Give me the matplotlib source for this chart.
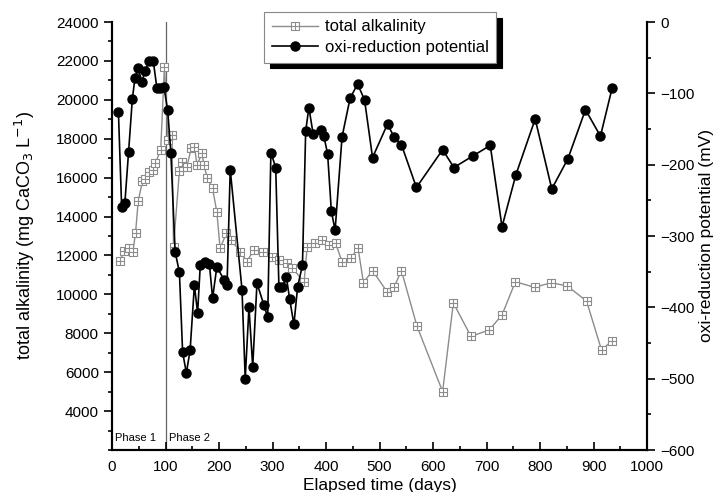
import numpy as np
import matplotlib
matplotlib.use("Agg")
import matplotlib.pyplot as plt
from matplotlib.path import Path
from matplotlib.ticker import MultipleLocator

plt.rcParams['font.family'] = ['Liberation Sans', 'DejaVu Sans']

# total alkalinity (mg CaCO3/L) vs elapsed days
alk_days = [15, 22, 31, 39, 44, 49, 57, 61, 70, 76, 81, 91, 98,
            105, 112, 115, 126, 131, 140, 148, 154, 159, 168, 172, 178, 188, 196,
            202, 214, 222, 240, 252, 265, 282, 299, 312, 327, 337, 359, 365,
            380, 393, 405, 418, 430, 446, 460, 470, 487, 514, 527, 541, 570,
            618, 638, 671, 705, 729, 754, 790, 821, 851, 887, 915, 935]
alk_vals = [11700, 12250, 12400, 12200, 13150, 14800, 15830, 15910, 16300, 16390, 16740, 17420, 21700,
            17930, 18190, 12450, 16360, 16820, 16560, 17510, 17590, 16650, 17250, 16650, 15970, 15450, 14220,
            12370, 13150, 12800, 12200, 11680, 12280, 12200, 11940, 11760, 11600, 11340, 10650, 12450,
            12620, 12800, 12540, 12620, 11680, 11850, 12370, 10600, 11220, 10140, 10360, 11220, 8370,
            5000, 9560, 7840, 8170, 8940, 10650, 10360, 10600, 10430, 9660, 7140, 7620]

# oxi-reduction potential (mV) vs elapsed days
orp_days = [12, 18, 24, 31, 38, 43, 49, 56, 62, 70, 77, 84, 90, 97, 104, 110,
            118, 126, 132, 139, 146, 154, 160, 165, 174, 182, 188, 196, 209, 215,
            221, 243, 249, 256, 263, 271, 284, 291, 297, 306, 312, 318, 326, 332,
            340, 347, 356, 362, 368, 376, 390, 396, 403, 410, 417, 430, 445, 459,
            472, 487, 515, 527, 541, 569, 618, 639, 674, 707, 729, 755, 791, 822,
            852, 885, 913, 935]
orp_vals = [-126, -259, -254, -182, -108, -78, -65, -84, -68, -54, -54, -93, -93, -91, -123, -183,
            -322, -351, -463, -492, -460, -369, -408, -341, -336, -339, -387, -343, -361, -369,
            -207, -375, -500, -400, -483, -366, -397, -414, -183, -204, -371, -372, -358, -388,
            -424, -371, -341, -153, -120, -157, -152, -160, -185, -265, -292, -161, -107, -87,
            -109, -190, -143, -161, -172, -232, -179, -204, -188, -173, -287, -214, -136, -234,
            -192, -123, -160, -92]

phase_split = 100

# square with a cross inside (Origin style)
sq_cross = Path(
    [(-1, -1), (1, -1), (1, 1), (-1, 1), (-1, -1),
     (0, -1), (0, 1), (-1, 0), (1, 0)],
    [Path.MOVETO, Path.LINETO, Path.LINETO, Path.LINETO, Path.CLOSEPOLY,
     Path.MOVETO, Path.LINETO, Path.MOVETO, Path.LINETO])

fig = plt.figure(figsize=(7.15, 4.92), dpi=100)
ax = fig.add_axes([112/715, 1 - 450/492, 535/715, 428/492])
ax2 = ax.twinx()

gray = '#8c8c8c'
l1, = ax.plot(alk_days, alk_vals, color=gray, lw=1, marker=sq_cross, ms=6,
              mfc='white', mec=gray, mew=0.8, zorder=3)
l2, = ax2.plot(orp_days, orp_vals, color='black', lw=1.2, marker='o', ms=6.5,
               mfc='black', mec='black', zorder=3)

ax.axvline(phase_split, color='#666666', lw=0.9, zorder=1)
ax.text(5, 2600, 'Phase 1', fontsize=8, va='center')
ax.text(107, 2600, 'Phase 2', fontsize=8, va='center')

ax.set_xlim(0, 1000)
ax.set_ylim(2000, 24000)
ax2.set_ylim(-600, 0)

ax.xaxis.set_major_locator(MultipleLocator(100))
ax.xaxis.set_minor_locator(MultipleLocator(50))
ax.set_yticks(np.arange(4000, 24001, 2000))
ax.yaxis.set_minor_locator(MultipleLocator(1000))
ax2.yaxis.set_major_locator(MultipleLocator(100))
ax2.yaxis.set_minor_locator(MultipleLocator(50))

ax.tick_params(axis='x', which='both', direction='in', labelsize=11, width=1.2, pad=7)
ax.tick_params(axis='x', which='major', length=6)
ax.tick_params(axis='x', which='minor', length=3)
ax.tick_params(axis='y', which='both', direction='out', labelsize=11, width=1.2)
ax.tick_params(axis='y', which='major', length=6)
ax.tick_params(axis='y', which='minor', length=3)
ax2.tick_params(axis='y', which='both', direction='out', labelsize=11, width=1.2)
ax2.tick_params(axis='y', which='major', length=6)
ax2.tick_params(axis='y', which='minor', length=3)

for a in (ax, ax2):
    a.spines['top'].set_visible(False)
    for s in ('left', 'right', 'bottom'):
        a.spines[s].set_linewidth(1.5)

ax.set_xlabel('Elapsed time (days)', fontsize=12.5, labelpad=3)
ax.set_ylabel('total alkalinity (mg CaCO$_3$ L$^{-1}$)', fontsize=13, labelpad=14)
ax2.set_ylabel('oxi-reduction potential (mV)', fontsize=12.5, labelpad=3)

leg = ax2.legend([l1, l2], ['total alkalinity', 'oxi-reduction potential'],
                 loc='upper left', bbox_to_anchor=(264/715, 1 - 12/492),
                 bbox_transform=fig.transFigure, borderaxespad=0,
                 fontsize=12, fancybox=False, frameon=True,
                 shadow={'color': 'black', 'ox': 4, 'oy': -4, 'alpha': 1},
                 handlelength=2.8, labelspacing=0.35, borderpad=0.45,
                 handletextpad=0.4)
leg.get_frame().set_edgecolor('#888888')
leg.get_frame().set_linewidth(0.8)
leg.set_zorder(10)

fig.savefig('out.png', dpi=100)
